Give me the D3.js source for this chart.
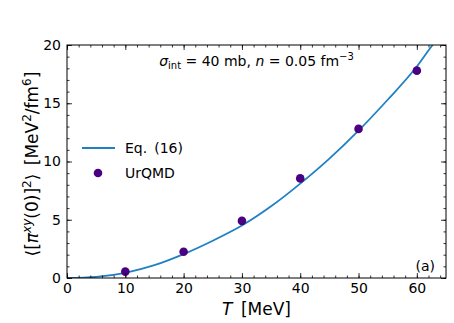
<!DOCTYPE html>
<html>
<head>
<meta charset="utf-8">
<script src="https://cdn.jsdelivr.net/npm/d3@7"></script>
<style>
  body { margin: 0; background: #fff; }
  text { font-family: "DejaVu Sans", sans-serif; fill: #000; }
</style>
</head>
<body>
<div id="chart"></div>
<script>
// data
var curveT = [0, 5, 10, 15, 20, 25, 30, 35, 40, 45, 50, 55, 60, 62.7, 64];
var curveY = [0, 0.1, 0.45, 1.1, 2.05, 3.2, 4.5, 6.15, 8.1, 10.25, 12.65, 15.3, 18.15, 20, 20.8];
var urqmdT = [10, 20, 30, 40, 50, 60];
var urqmdY = [0.55, 2.25, 4.9, 8.55, 12.8, 17.8];
var xTicks = [0, 10, 20, 30, 40, 50, 60];
var yTicks = [0, 5, 10, 15, 20];

var W = 454, H = 323;
var margin = { top: 45, right: 8, bottom: 45, left: 67 };
var width = W - margin.left - margin.right,
    height = H - margin.top - margin.bottom;

var x = d3.scaleLinear().domain([0, 65]).range([0, width]);
var y = d3.scaleLinear().domain([0, 20]).range([height, 0]);

var svg = d3.select("#chart").append("svg")
    .attr("width", W).attr("height", H);

svg.append("defs").append("clipPath").attr("id", "clip")
    .append("rect").attr("width", width).attr("height", height);

var g = svg.append("g")
    .attr("transform", "translate(" + margin.left + "," + margin.top + ")");

// curve
var line = d3.line()
    .x(function (d, i) { return x(curveT[i]); })
    .y(function (d) { return y(d); })
    .curve(d3.curveMonotoneX);

g.append("path")
    .datum(curveY)
    .attr("clip-path", "url(#clip)")
    .attr("d", line)
    .attr("fill", "none")
    .attr("stroke", "#2080c4")
    .attr("stroke-width", 1.8);

// urqmd points
g.selectAll("circle.pt")
    .data(urqmdY)
    .enter().append("circle")
    .attr("class", "pt")
    .attr("cx", function (d, i) { return x(urqmdT[i]); })
    .attr("cy", function (d) { return y(d); })
    .attr("r", 4.3)
    .attr("fill", "#4b0082");

// axes, ticks inside on all four sides
function styleAxis(sel) {
    sel.select(".domain").remove();
    sel.selectAll("line").attr("stroke", "#000").attr("stroke-width", 0.8);
    sel.selectAll("text").style("font-size", "14px").style("font-family", "DejaVu Sans");
}

var xMinor = d3.range(0, 66, 2), yMinor = d3.range(0, 21, 1);

g.append("g").attr("transform", "translate(0," + height + ")")
    .call(d3.axisBottom(x).tickValues(xMinor).tickSize(-2.5).tickFormat(""))
    .call(styleAxis);
g.append("g").attr("transform", "translate(0," + height + ")")
    .call(d3.axisBottom(x).tickValues(xTicks).tickSize(-5).tickPadding(5).tickFormat(d3.format("d")))
    .call(styleAxis);
g.append("g")
    .call(d3.axisTop(x).tickValues(xMinor).tickSize(-2.5).tickFormat(""))
    .call(styleAxis);
g.append("g")
    .call(d3.axisTop(x).tickValues(xTicks).tickSize(-5).tickFormat(""))
    .call(styleAxis);

g.append("g")
    .call(d3.axisLeft(y).tickValues(yMinor).tickSize(-2.5).tickFormat(""))
    .call(styleAxis);
g.append("g")
    .call(d3.axisLeft(y).tickValues(yTicks).tickSize(-5).tickPadding(6).tickFormat(d3.format("d")))
    .call(styleAxis);
g.append("g").attr("transform", "translate(" + width + ",0)")
    .call(d3.axisRight(y).tickValues(yMinor).tickSize(-2.5).tickFormat(""))
    .call(styleAxis);
g.append("g").attr("transform", "translate(" + width + ",0)")
    .call(d3.axisRight(y).tickValues(yTicks).tickSize(-5).tickFormat(""))
    .call(styleAxis);

// frame
g.append("rect")
    .attr("width", width).attr("height", height)
    .attr("fill", "none").attr("stroke", "#000").attr("stroke-width", 1);

// x label
var xl = svg.append("text")
    .attr("x", margin.left + width / 2)
    .attr("y", H - 8)
    .attr("text-anchor", "middle")
    .style("font-size", "17px");
xl.append("tspan").style("font-style", "italic").text("T");
xl.append("tspan").text("\u2002[MeV]");

// y label
var yl = svg.append("text")
    .attr("transform", "translate(38,164) rotate(-90)")
    .attr("text-anchor", "middle")
    .style("font-size", "17px");
yl.append("tspan").text("\u27e8[");
yl.append("tspan").style("font-style", "italic").text("\u03c0");
yl.append("tspan").attr("dy", -7).style("font-size", "12px").style("font-style", "italic").text("xy");
yl.append("tspan").attr("dy", 7).text("(0)]");
yl.append("tspan").attr("dy", -7).style("font-size", "12px").text("2");
yl.append("tspan").attr("dy", 7).text("\u27e9\u2002[MeV");
yl.append("tspan").attr("dy", -7).style("font-size", "12px").text("2");
yl.append("tspan").attr("dy", 7).text("/fm");
yl.append("tspan").attr("dy", -7).style("font-size", "12px").text("6");
yl.append("tspan").attr("dy", 7).text("]");

// annotation
var an = g.append("text")
    .attr("x", width / 2)
    .attr("y", 21)
    .attr("text-anchor", "middle")
    .style("font-size", "14px");
an.append("tspan").style("font-style", "italic").text("\u03c3");
an.append("tspan").attr("dy", 3).style("font-size", "10px").text("int");
an.append("tspan").attr("dy", -3).text(" = 40 mb,  ");
an.append("tspan").style("font-style", "italic").text("n");
an.append("tspan").text(" = 0.05 fm");
an.append("tspan").attr("dy", -6).style("font-size", "10px").text("\u22123");

// panel tag
g.append("text")
    .attr("x", width - 11)
    .attr("y", height - 7)
    .attr("text-anchor", "end")
    .style("font-size", "14px")
    .text("(a)");

// legend
var lg = g.append("g").attr("transform", "translate(15,103)");
lg.append("line")
    .attr("x1", 0).attr("x2", 33).attr("y1", 0).attr("y2", 0)
    .attr("stroke", "#2080c4").attr("stroke-width", 1.8);
lg.append("text").attr("x", 43).attr("y", 5).style("font-size", "14px").text("Eq.\u2002(16)");
lg.append("circle").attr("cx", 16).attr("cy", 25).attr("r", 4.3).attr("fill", "#4b0082");
lg.append("text").attr("x", 43).attr("y", 30).style("font-size", "14px").text("UrQMD");
</script>
</body>
</html>
